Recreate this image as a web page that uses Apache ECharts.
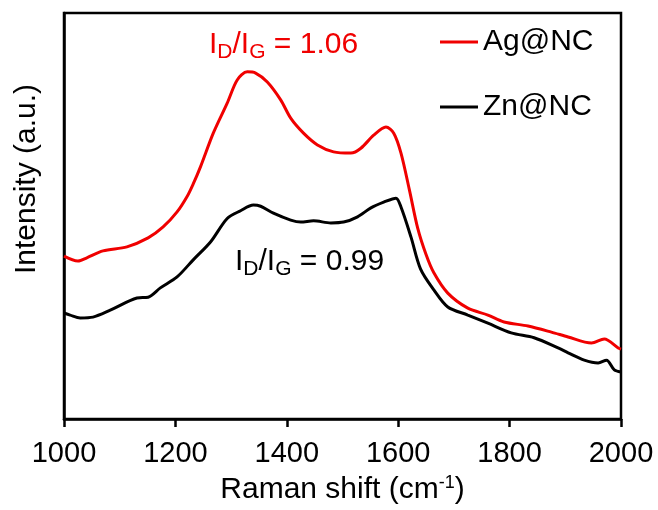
<!DOCTYPE html>
<html>
<head>
<meta charset="utf-8">
<script src="https://cdn.jsdelivr.net/npm/echarts@6/dist/echarts.min.js"></script>
<style>
  html, body { margin: 0; padding: 0; background: #fff; }
  #main { width: 658px; height: 510px; }
</style>
</head>
<body>
<div id="main"></div>
<script>
    var myChart = echarts.init(document.getElementById('main'));

    // Raman shift (cm-1) and intensity (a.u.)
    var agShift = [1000, 1025, 1041, 1070, 1113, 1151, 1178, 1203, 1221, 1232, 1245, 1268, 1293, 1311, 1329, 1344, 1365, 1389, 1407, 1430, 1455, 1484, 1515, 1533, 1556, 1578, 1592, 1605, 1620, 1635, 1650, 1664, 1689, 1725, 1761, 1790, 1833, 1875, 1905, 1947, 1970, 1995, 2000];
    var agValue = [40.1, 38.9, 39.7, 41.4, 42.4, 44.6, 47.3, 51.0, 54.8, 57.9, 62.1, 70.4, 77.8, 83.5, 85.5, 85.2, 83.0, 78.6, 74.1, 70.4, 67.5, 65.8, 65.5, 66.7, 69.9, 71.9, 70.4, 65.5, 56.5, 47.0, 40.5, 36.0, 31.0, 27.3, 25.6, 23.9, 22.9, 21.4, 20.2, 18.7, 19.7, 17.5, 17.2];

    var znShift = [1000, 1011, 1029, 1052, 1083, 1131, 1151, 1173, 1203, 1232, 1263, 1293, 1317, 1340, 1353, 1376, 1407, 1425, 1448, 1479, 1502, 1527, 1551, 1574, 1596, 1605, 1623, 1640, 1664, 1689, 1725, 1761, 1803, 1844, 1887, 1905, 1934, 1959, 1974, 1988, 2000];
    var znValue = [26.1, 25.6, 24.9, 25.1, 26.8, 29.8, 30.0, 32.3, 35.0, 39.2, 43.6, 49.4, 51.3, 52.7, 52.4, 50.7, 49.0, 48.5, 48.8, 48.3, 48.5, 49.8, 52.0, 53.4, 54.4, 52.2, 44.8, 37.0, 31.8, 27.6, 25.6, 23.6, 21.2, 20.0, 17.5, 16.3, 14.5, 13.8, 14.5, 12.1, 11.6];

    var seriesNames = ['Ag@NC', 'Zn@NC'];
    var seriesColors = ['#f00000', '#000000'];
    var ratioTexts = ['1.06', '0.99'];

    function pairs(xs, ys) {
        return xs.map(function (x, i) { return [x, ys[i]]; });
    }

    var font = 'Liberation Sans, Arial, sans-serif';

    function ratioLabel(val, color) {
        return {
            type: 'text',
            style: {
                text: '{i|I}{s|D}{i|/I}{s|G}{i| = ' + val + '}',
                rich: {
                    i: { fontSize: 30, fontFamily: font, fill: color, color: color, lineHeight: 36 },
                    s: { fontSize: 21, fontFamily: font, fill: color, color: color, lineHeight: 36, verticalAlign: 'bottom', padding: [13, 0, 0, 0] }
                }
            }
        };
    }

    var lab1 = ratioLabel(ratioTexts[0], seriesColors[0]);
    lab1.left = 209; lab1.top = 29;
    var lab2 = ratioLabel(ratioTexts[1], '#000');
    lab2.left = 235; lab2.top = 246;

    function legendAt(name, top) {
        return {
            data: [name],
            left: 435, top: top,
            icon: 'rect',
            itemWidth: 38, itemHeight: 3,
            textStyle: { fontSize: 30, fontFamily: font, color: '#000' }
        };
    }

    option = {
        animation: false,
        grid: {
            left: 64, right: 37, top: 13, bottom: 91,
            show: true,
            borderColor: '#000',
            borderWidth: 2.5,
            backgroundColor: 'transparent'
        },
        legend: [legendAt(seriesNames[0], 22), legendAt(seriesNames[1], 87)],
        xAxis: {
            type: 'value',
            min: 1000, max: 2000, interval: 200,
            name: 'Raman shift (cm{sup|-1})',
            nameLocation: 'middle',
            nameGap: 55,
            nameTextStyle: {
                fontSize: 30, fontFamily: font, color: '#000',
                rich: { sup: { fontSize: 18, fontFamily: font, color: '#000', verticalAlign: 'top', padding: [0, 0, 14, 0] } }
            },
            axisLine: { lineStyle: { color: '#000', width: 2.5 } },
            axisTick: { inside: false, length: 8, lineStyle: { color: '#000', width: 2.5 } },
            axisLabel: {
                fontSize: 29, fontFamily: font, color: '#000', margin: 20,
                formatter: function (v) { return String(v); }
            },
            splitLine: { show: false }
        },
        yAxis: {
            type: 'value',
            min: 0, max: 100,
            name: 'Intensity (a.u.)',
            nameLocation: 'middle',
            nameGap: 22,
            nameTextStyle: { fontSize: 30, fontFamily: font, color: '#000', padding: [0, 0, 0, 74] },
            axisLine: { show: true, lineStyle: { color: '#000', width: 2.5 } },
            axisTick: { show: false },
            axisLabel: { show: false },
            splitLine: { show: false }
        },
        graphic: [lab1, lab2],
        series: [{
            name: seriesNames[0],
            type: 'line',
            data: pairs(agShift, agValue),
            smooth: 0.3,
            showSymbol: false,
            lineStyle: { color: seriesColors[0], width: 3 },
            itemStyle: { color: seriesColors[0] }
        }, {
            name: seriesNames[1],
            type: 'line',
            data: pairs(znShift, znValue),
            smooth: 0.3,
            showSymbol: false,
            lineStyle: { color: seriesColors[1], width: 3 },
            itemStyle: { color: seriesColors[1] }
        }]
    };

    myChart.setOption(option);
</script>
</body>
</html>
